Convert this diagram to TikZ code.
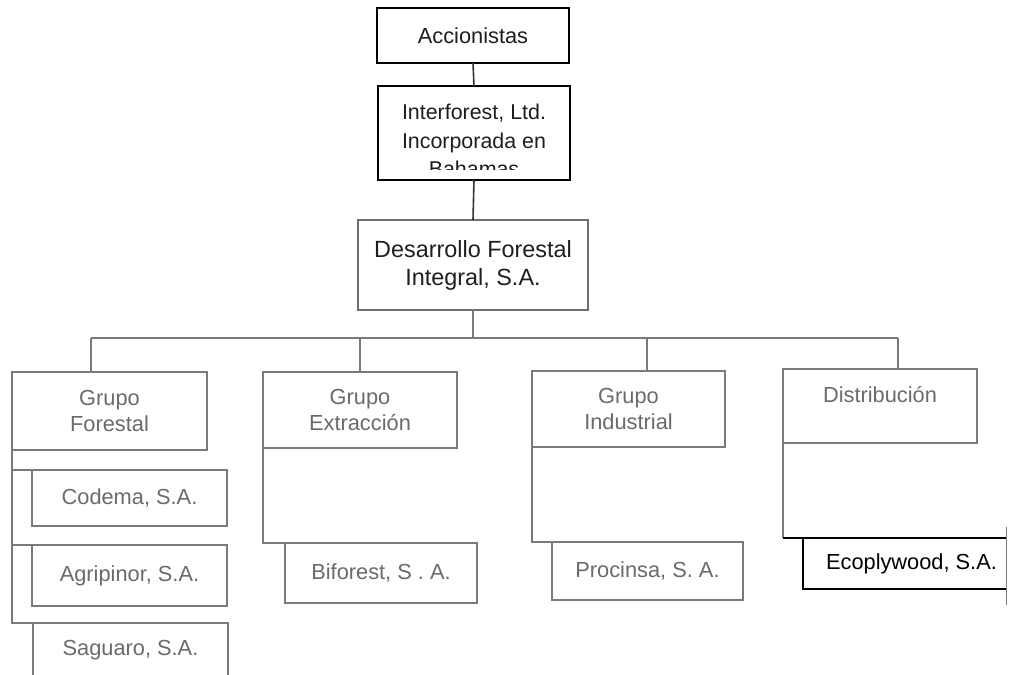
\documentclass[tikz,border=0pt]{standalone}
\usepackage{fontspec}
\setmainfont{Liberation Sans}
\definecolor{gline}{HTML}{7A7A7A}
\definecolor{gtext}{HTML}{6A6A6A}
\definecolor{dtext}{HTML}{1E1E1E}
\begin{document}
\begin{tikzpicture}[x=0.5pt,y=-0.5pt,
  every node/.style={inner sep=0pt,outer sep=0pt},
  bbox/.style={draw=black,line width=1.4pt,rectangle,align=center,text=dtext},
  dbox/.style={draw=gline!90!black,line width=0.8pt,rectangle,align=center,text=dtext},
  gbox/.style={draw=gline,line width=0.75pt,rectangle,align=center,text=gtext},
  gl/.style={draw=gline,line width=0.75pt},
  dl/.style={draw=black!80,line width=0.8pt},
  bl/.style={draw=black,line width=1.4pt},
  txt/.style={font=\fontsize{10.9}{13.4}\selectfont}
]
\useasboundingbox (0,0) rectangle (1009,675);

% top boxes
\node[bbox,txt,minimum width=96pt,minimum height=27.5pt] (acc) at (473,35.5) {Accionistas};
\node[bbox,minimum width=96pt,minimum height=47pt] (inter) at (474,133) {};
\begin{scope}
  \clip (380,90) rectangle (568,169.5);
  \node[align=center,text=dtext,font=\fontsize{10.7}{14.3}\selectfont] (interT) at (474,140.5) {Interforest, Ltd.\\Incorporada en\\Bahamas};
\end{scope}
\node[dbox,minimum width=115pt,minimum height=45pt,font=\fontsize{11.7}{14}\selectfont] (des) at (473,265) {Desarrollo Forestal\\Integral, S.A.};

% groups
\node[gbox,txt,minimum width=97.5pt,minimum height=39pt] (for) at (109.5,411) {Grupo\\Forestal};
\node[gbox,txt,minimum width=97pt,minimum height=38pt] (ext) at (360,410) {Grupo\\Extracción};
\node[gbox,txt,minimum width=96.5pt,minimum height=38pt] (ind) at (628.5,409) {Grupo\\Industrial};
\node[gbox,txt,minimum width=97pt,minimum height=37pt,text height=8pt,text depth=12pt] (dis) at (880,406) {Distribución};

% companies
\node[gbox,txt,minimum width=97.5pt,minimum height=28pt] (cod) at (129.5,498) {Codema, S.A.};
\node[gbox,txt,minimum width=97.5pt,minimum height=30.5pt] (agr) at (129.5,575.5) {Agripinor, S.A.};
\node[gbox,txt,minimum width=97.5pt,minimum height=27pt] (sag) at (130.5,650) {Saguaro, S.A.};
\node[gbox,txt,minimum width=96pt,minimum height=30pt] (bif) at (381,573) {Biforest, S . A.};
\node[gbox,txt,minimum width=95.5pt,minimum height=29pt] (pro) at (647.5,571) {Procinsa, S. A.};
\node[txt,text=black,minimum width=101.5pt,minimum height=25.5pt] (eco) at (904.5,563.5) {\hspace*{7pt}Ecoplywood, S.A.};

% connectors top
\draw[dl] (acc.south) -- (inter.north);
\draw[dl] (inter.south) -- (des.north);
\coordinate (bF) at (91,338);
\coordinate (bE) at (360,338);
\coordinate (bI) at (647,338);
\coordinate (bD) at (898,338);
\draw[gl] (des.south) -- (des.south |- bE);
\draw[gl] (bF) -- (bD);
\draw[gl] (bF) -- (bF |- for.north);
\draw[gl] (bE) -- (ext.north);
\draw[gl] (bI) -- (bI |- ind.north);
\draw[gl] (bD) -- (bD |- dis.north);

% forestal branches
\draw[gl] (for.south west) -- (for.south west |- sag.north west) -- (sag.north west);
\draw[gl] (for.south west |- cod.north west) -- (cod.north west);
\draw[gl] (for.south west |- agr.north west) -- (agr.north west);

% extraction / industrial
\draw[gl] (ext.south west) |- (bif.north west);
\draw[gl] (ind.south west) |- (pro.north west);

% distribution / ecoplywood
\coordinate (dEco) at (dis.south west |- eco.north);
\draw[gl] (dis.south west) -- (dEco);
\draw[bl] (dEco) -- (eco.north east);
\draw[bl] (eco.north west) -- (eco.south west) -- (eco.south east);
\draw[gl,line width=0.5pt] ([yshift=5.5pt]eco.north east) -- ([yshift=-8pt]eco.south east);
\end{tikzpicture}
\end{document}
